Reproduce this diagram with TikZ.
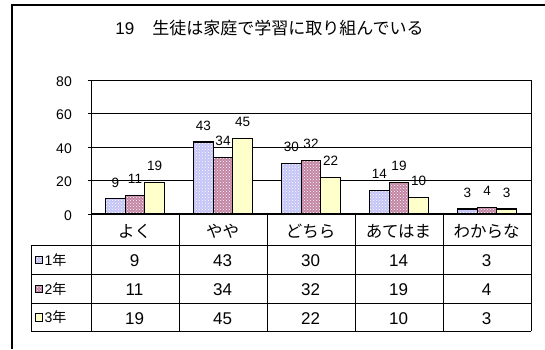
\documentclass[tikz,border=0pt]{standalone}
\usepackage{fontspec}
\setmainfont{Liberation Sans}
\newfontfamily\cjk{Noto Sans CJK JP}
\usetikzlibrary{patterns}
\definecolor{lavA}{HTML}{C4C4F6}
\definecolor{plum}{HTML}{993366}
\definecolor{ylw}{HTML}{FFFFCC}
\tikzset{
  frameline/.style={line width=1.3pt},
  gridline/.style={line width=0.9pt},
  barA/.style={preaction={fill=lavA}, pattern=crosshatch dots, pattern color=white, draw=black, line width=1.1pt},
  barB/.style={preaction={fill=plum!60!white}, pattern=crosshatch dots, pattern color=white, draw=black, line width=1.1pt},
  barC/.style={fill=ylw, draw=black, line width=1.1pt},
  keyA/.style={preaction={fill=lavA}, pattern=crosshatch dots, pattern color=white, draw=black, line width=0.8pt},
  keyB/.style={preaction={fill=plum!60!white}, pattern=crosshatch dots, pattern color=white, draw=black, line width=0.8pt},
  keyC/.style={fill=ylw, draw=black, line width=0.8pt},
  lab/.style={font=\fontsize{13.5}{14}\selectfont, inner sep=0pt},
  ylab/.style={font=\fontsize{14}{15}\selectfont, inner sep=0pt, anchor=east},
  hd/.style={font=\cjk\fontsize{16.5}{17}\selectfont, inner sep=0pt},
  cell/.style={font=\fontsize{17}{18}\selectfont, inner sep=0pt},
  leg/.style={font=\fontsize{14}{15}\selectfont, inner sep=0pt, anchor=west},
}
\begin{document}
\begin{tikzpicture}[x=1pt,y=-1pt]
\useasboundingbox (0,0) rectangle (545,349);
% outer frame (cut by the picture edge)
\coordinate (fbl) at (12,349);
\coordinate (ftl) at (12,5);
\coordinate (ftr) at (545,5);
\draw[frameline] (fbl) -- (ftl) -- (ftr);
% title
\node[inner sep=0pt] (title) at (269.5,28) {\fontsize{17}{18}\selectfont 19\hspace{18pt}{\cjk 生徒は家庭で学習に取り組んでいる}};
% gridlines and y labels
\foreach \v in {0,20,40,60,80} {
  \pgfmathsetmacro\yy{214-\v*1.675}
  \coordinate (gl\v) at (91,\yy);
  \coordinate (gr\v) at (531,\yy);
  \coordinate (gt\v) at (87.5,\yy);
  \draw[gridline] (gt\v) -- (gr\v);
  \node[ylab] (yl\v) at (72,\yy+1.5) {\v};
}
% bars
\foreach \a/\b/\c [count=\i from 0] in {9/11/19, 43/34/45, 30/32/22, 14/19/10, 3/4/3} {
  \pgfmathsetmacro\xl{91+88*\i+14.67}
  \draw[barA] (\xl,214) rectangle ({\xl+19.56},{214-\a*1.675});
  \draw[barB] ({\xl+19.56},214) rectangle ({\xl+39.11},{214-\b*1.675});
  \draw[barC] ({\xl+39.11},214) rectangle ({\xl+58.67},{214-\c*1.675});
  \node[lab] (la\i) at ({\xl+9.78},{214-\a*1.675-16.5}) {\a};
  \node[lab] (lb\i) at ({\xl+29.33},{214-\b*1.675-16.5}) {\b};
  \node[lab] (lc\i) at ({\xl+48.89},{214-\c*1.675-16.5}) {\c};
}
% plot right border and axis line
\coordinate (ptr) at (531,80);
\coordinate (pbr) at (531,331);
\draw[gridline] (ptr) -- (pbr);
\coordinate (ptl) at (91,80);
\coordinate (pbl) at (91,331);
\draw[gridline] (ptl) -- (pbl);
\draw[line width=1.2pt] (gl0) -- (gr0);
% table lines
\foreach \r in {245,274,303,331} {
  \coordinate (tl\r) at (31,\r);
  \coordinate (tr\r) at (531,\r);
  \draw[gridline] (tl\r) -- (tr\r);
}
\draw[gridline] (tl245) -- (tl331);
\foreach \k in {1,2,3,4} {
  \coordinate (vt\k) at (91+88*\k,214);
  \coordinate (vb\k) at (91+88*\k,331);
  \draw[gridline] (vt\k) -- (vb\k);
}
% headers
\foreach \t [count=\i from 0] in {よく,やや,どちら,あてはま,わからな} {
  \node[hd] (h\i) at (134.5+88*\i,231) {\t};
}
% table values
\foreach \a/\b/\c [count=\i from 0] in {9/11/19, 43/34/45, 30/32/22, 14/19/10, 3/4/3} {
  \node[cell] (ca\i) at (134.5+88*\i,261) {\a};
  \node[cell] (cb\i) at (134.5+88*\i,290) {\b};
  \node[cell] (cc\i) at (134.5+88*\i,318.5) {\c};
}
% legend keys
\draw[keyA] (35,256) rectangle (42.5,263.5);
\draw[keyB] (35,285) rectangle (42.5,292.5);
\draw[keyC] (35,313.5) rectangle (42.5,321);
\node[leg] (k1) at (44.5,260) {1{\cjk 年}};
\node[leg] (k2) at (44.5,289) {2{\cjk 年}};
\node[leg] (k3) at (44.5,317.5) {3{\cjk 年}};
\end{tikzpicture}
\end{document}
